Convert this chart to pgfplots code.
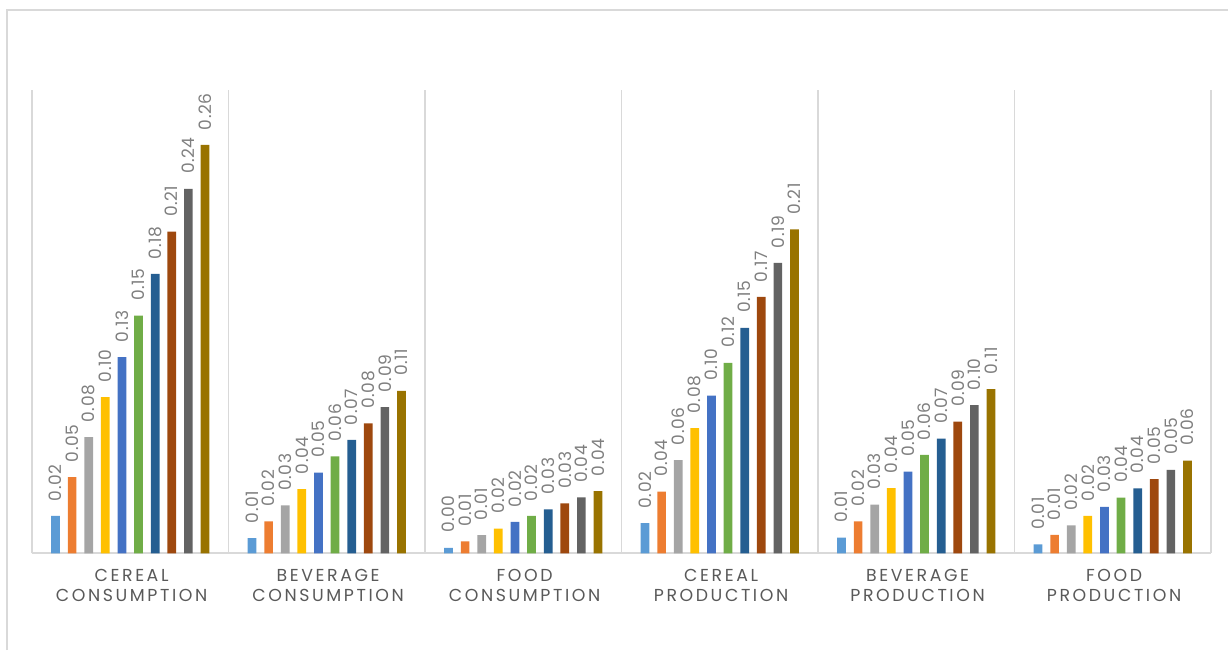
\documentclass[border=0pt]{standalone}
\usepackage{pgfplots}
\pgfplotsset{compat=1.18}
\usepackage{pgfplotstable}
\usepackage{fontspec}
\setmainfont{Poppins}
\newfontfamily\catfont[LetterSpace=15]{Poppins}
\newfontfamily\valfont[LetterSpace=3]{Poppins}

\definecolor{cA}{HTML}{5B9BD5}
\definecolor{cB}{HTML}{ED7D31}
\definecolor{cC}{HTML}{A5A5A5}
\definecolor{cD}{HTML}{FFC000}
\definecolor{cE}{HTML}{4472C4}
\definecolor{cF}{HTML}{70AD47}
\definecolor{cG}{HTML}{255E91}
\definecolor{cH}{HTML}{9E480E}
\definecolor{cI}{HTML}{636363}
\definecolor{cJ}{HTML}{997300}
\definecolor{rulegray}{HTML}{D9D9D9}
\definecolor{labgray}{HTML}{595959}
\definecolor{valgray}{HTML}{7F7F7F}

% rows: groups (0..5), columns: the ten series
\pgfplotstableread{
idx v1 v2 v3 v4 v5 v6 v7 v8 v9 v10
0 0.0242 0.0494 0.0752 0.1012 0.1271 0.1539 0.1809 0.2083 0.2360 0.2644
1 0.0099 0.0207 0.0311 0.0416 0.0522 0.0628 0.0734 0.0842 0.0946 0.1052
2 0.0036 0.0078 0.0118 0.0160 0.0203 0.0242 0.0285 0.0324 0.0362 0.0403
3 0.0195 0.0400 0.0604 0.0810 0.1021 0.1233 0.1460 0.1660 0.1880 0.2098
4 0.0101 0.0207 0.0315 0.0423 0.0529 0.0637 0.0742 0.0852 0.0959 0.1064
5 0.0058 0.0119 0.0181 0.0242 0.0300 0.0360 0.0421 0.0481 0.0541 0.0600
}\datatable

\begin{document}
\begin{tikzpicture}
\path[use as bounding box] (0,0) rectangle (921pt,487.5pt);
\draw[rulegray, line width=1.1pt] (5.25pt,0) -- (5.25pt,480pt) -- (921pt,480pt);
\begin{axis}[
  at={(24pt,72.5pt)}, anchor=south west,
  scale only axis, width=884.25pt, height=347.5pt,
  xmin=-0.5, xmax=5.5, ymin=0, ymax=0.3,
  clip=false,
  hide y axis,
  axis x line*=bottom,
  axis line style={-, draw=rulegray, line width=1.3pt},
  xtick={0,...,5},
  xticklabels={{CEREAL\\CONSUMPTION},{BEVERAGE\\CONSUMPTION},{FOOD\\CONSUMPTION},{CEREAL\\PRODUCTION},{BEVERAGE\\PRODUCTION},{FOOD\\PRODUCTION}},
  xticklabel style={align=center, text=labgray, font=\catfont\fontsize{13pt}{15pt}\selectfont, yshift=-8.5pt, xshift=1pt},
  major tick length=0pt, minor tick length=0pt,
  minor xtick={-0.5,0.5,...,5.5},
  xminorgrids,
  minor grid style={rulegray, line width=1.3pt},
  ybar, bar width=0.0443,
  every axis plot/.append style={draw=none},
  nodes near coords={\pgfmathprintnumber[fixed,fixed zerofill,precision=2,assume math mode=true]{\pgfplotspointmeta}},
  every node near coord/.append style={rotate=90, anchor=west, inner ysep=0pt, inner xsep=11pt,
    text=valgray, font=\valfont\fontsize{12.8pt}{14pt}\selectfont},
]
\addplot[fill=cA, bar shift=-0.38025] table[x=idx, y=v1] {\datatable};
\addplot[fill=cB, bar shift=-0.29575] table[x=idx, y=v2] {\datatable};
\addplot[fill=cC, bar shift=-0.21125] table[x=idx, y=v3] {\datatable};
\addplot[fill=cD, bar shift=-0.12675] table[x=idx, y=v4] {\datatable};
\addplot[fill=cE, bar shift=-0.04225] table[x=idx, y=v5] {\datatable};
\addplot[fill=cF, bar shift=0.04225] table[x=idx, y=v6] {\datatable};
\addplot[fill=cG, bar shift=0.12675] table[x=idx, y=v7] {\datatable};
\addplot[fill=cH, bar shift=0.21125] table[x=idx, y=v8] {\datatable};
\addplot[fill=cI, bar shift=0.29575] table[x=idx, y=v9] {\datatable};
\addplot[fill=cJ, bar shift=0.38025] table[x=idx, y=v10] {\datatable};
\end{axis}
\end{tikzpicture}
\end{document}
